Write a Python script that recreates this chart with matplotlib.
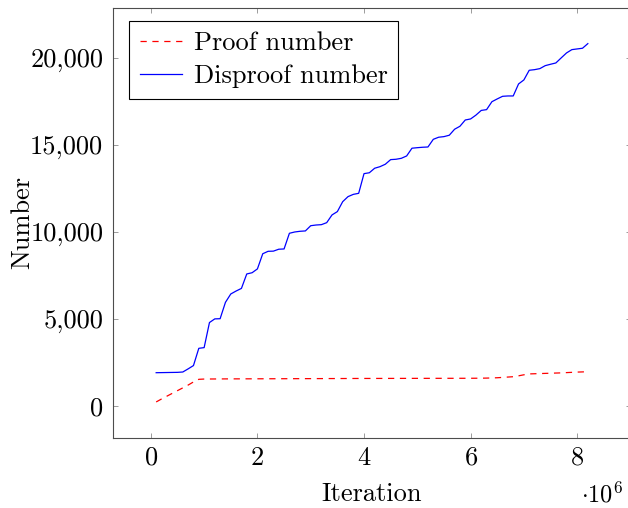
# Proof / disproof numbers over search iterations

import matplotlib
matplotlib.use('Agg')
import matplotlib.pyplot as plt
from matplotlib.ticker import FuncFormatter

plt.rcParams['font.family'] = ['cmr10', 'DejaVu Serif']
plt.rcParams['mathtext.fontset'] = 'cm'
plt.rcParams['axes.formatter.use_mathtext'] = True
plt.rcParams['font.size'] = 19

# Iteration (in millions)
iterations = [0.1, 0.2, 0.3, 0.4, 0.5, 0.6, 0.7, 0.8, 0.9, 1.0,
              1.1, 1.2, 1.3, 1.4, 1.5, 1.6, 1.7, 1.8, 1.9, 2.0,
              2.1, 2.2, 2.3, 2.4, 2.5, 2.6, 2.7, 2.8, 2.9, 3.0,
              3.1, 3.2, 3.3, 3.4, 3.5, 3.6, 3.7, 3.8, 3.9, 4.0,
              4.1, 4.2, 4.3, 4.4, 4.5, 4.6, 4.7, 4.8, 4.9, 5.0,
              5.1, 5.2, 5.3, 5.4, 5.5, 5.6, 5.7, 5.8, 5.9, 6.0,
              6.1, 6.2, 6.3, 6.4, 6.5, 6.6, 6.7, 6.8, 6.9, 7.0,
              7.1, 7.2, 7.3, 7.4, 7.5, 7.6, 7.7, 7.8, 7.9, 8.0,
              8.1, 8.2]

proof = [230, 400, 560, 720, 880, 1040, 1200, 1380, 1530, 1545,
         1548, 1550, 1552, 1554, 1555, 1556, 1557, 1558, 1559, 1560,
         1561, 1562, 1563, 1564, 1565, 1566, 1567, 1568, 1569, 1570,
         1571, 1572, 1573, 1574, 1575, 1576, 1577, 1578, 1579, 1580,
         1580, 1581, 1581, 1582, 1582, 1583, 1583, 1584, 1584, 1585,
         1585, 1586, 1586, 1587, 1587, 1588, 1588, 1589, 1589, 1590,
         1592, 1595, 1600, 1610, 1620, 1640, 1660, 1680, 1730, 1790,
         1840, 1850, 1860, 1870, 1880, 1890, 1900, 1915, 1930, 1945,
         1955, 1970]

disproof = [1910, 1915, 1920, 1925, 1930, 1950, 2130, 2320, 3310, 3350,
            4790, 5000, 5010, 5950, 6430, 6600, 6750, 7580, 7650, 7870,
            8740, 8880, 8890, 9000, 9015, 9915, 9990, 10030, 10050, 10350,
            10390, 10410, 10525, 10970, 11160, 11730, 12020, 12150, 12210, 13340,
            13390, 13650, 13740, 13880, 14145, 14165, 14220, 14355, 14800, 14830,
            14855, 14870, 15310, 15430, 15465, 15545, 15890, 16060, 16420, 16480,
            16700, 16970, 17015, 17470, 17630, 17780, 17800, 17800, 18490, 18720,
            19275, 19310, 19370, 19540, 19620, 19695, 19985, 20270, 20460, 20500,
            20540, 20805]

x_ticks = [0, 2, 4, 6, 8]
y_ticks = [0, 5000, 10000, 15000, 20000]

fig = plt.figure(figsize=(6.28, 5.08), dpi=100)
ax = fig.add_axes([113 / 628, 70.2 / 508, 518 / 628, 430 / 508])

ax.plot(iterations, proof, color='red', lw=0.9, linestyle=(0, (5, 4.5)), label='Proof number')
ax.plot(iterations, disproof, color='blue', lw=0.9, label='Disproof number')

ax.set_xlim(-0.71, 9.01)
ax.set_ylim(-1828, 22862)
ax.set_xticks(x_ticks)
ax.set_yticks(y_ticks)
ax.yaxis.set_major_formatter(FuncFormatter(lambda v, p: f'{int(v):,}'))

ax.tick_params(axis='x', pad=6)
ax.tick_params(axis='y', pad=7)
ax.tick_params(direction='in', length=3.5, width=0.6, color='0.55',
               top=True, right=True)
for s in ax.spines.values():
    s.set_color('0.3')
    s.set_linewidth(0.8)

ax.set_xlabel('Iteration')
ax.set_ylabel('Number')
ax.xaxis.set_label_coords(0.5, -0.104)
ax.yaxis.set_label_coords(-0.152, 0.5)
ax.text(0.984, -0.132, r'$\cdot 10^6$', transform=ax.transAxes, ha='right', va='center',
        fontsize=17.5)

leg = ax.legend(loc='upper left', bbox_to_anchor=(16 / 518, 1 - 13 / 430), borderaxespad=0,
                fancybox=False, framealpha=1, edgecolor='black', handlelength=1.6,
                handletextpad=0.45, borderpad=0.4, labelspacing=0.35)
leg.get_frame().set_linewidth(0.8)

plt.savefig('out.png', dpi=100)
